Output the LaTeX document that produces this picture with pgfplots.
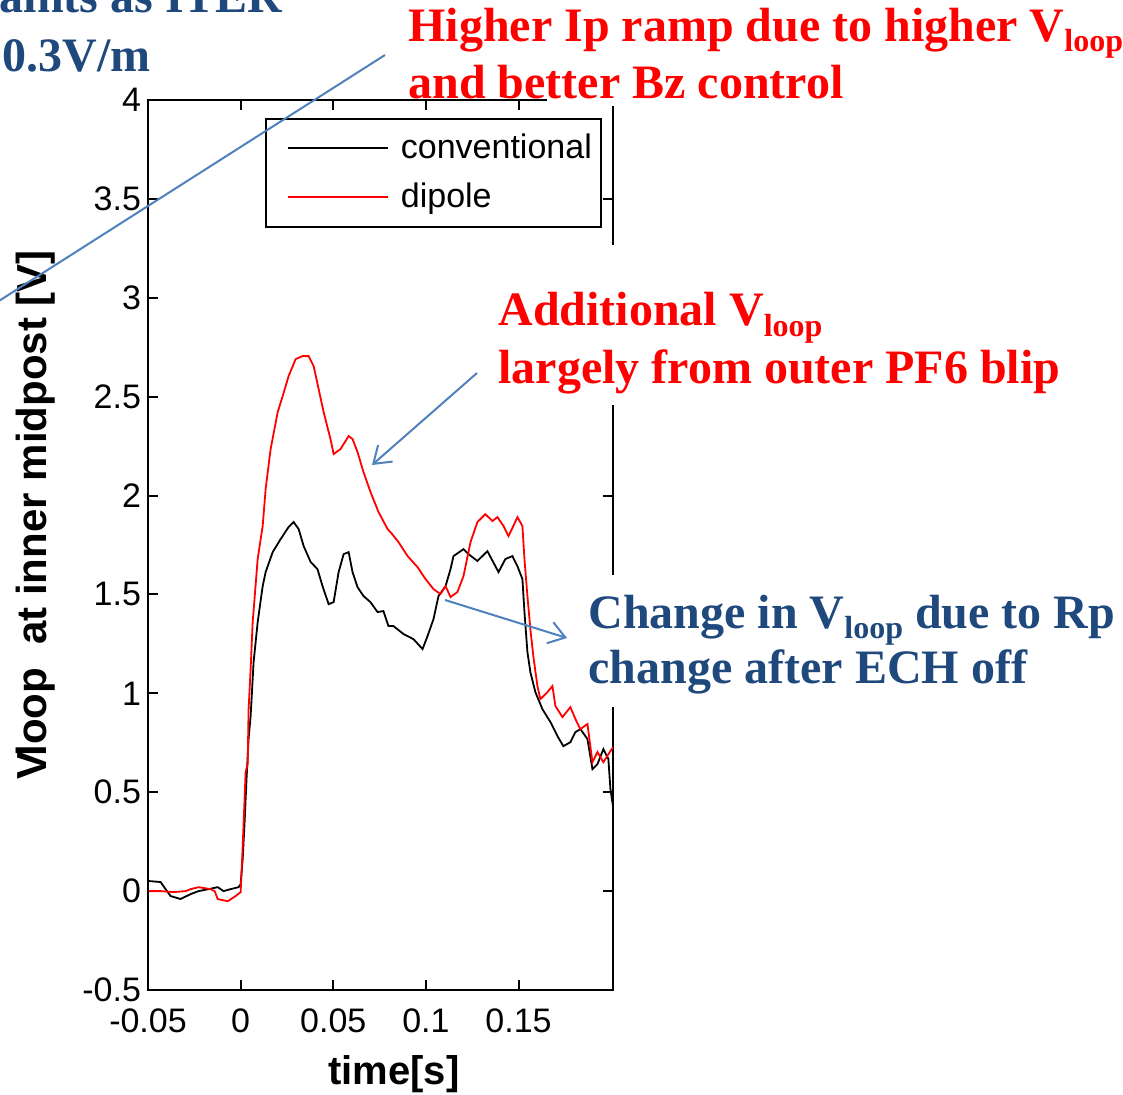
\documentclass[border=0pt]{standalone}
\usepackage{fontspec}
\setmainfont{Liberation Sans}
\newfontfamily\tnr{Liberation Serif}
\usepackage{pgfplots}
\pgfplotsset{compat=1.18}
\usetikzlibrary{arrows.meta}
\definecolor{annred}{RGB}{255,0,0}
\definecolor{annblue}{RGB}{31,73,125}
\definecolor{arrblue}{RGB}{79,129,189}

\newcommand{\sub}[1]{\raisebox{-5pt}{\fontsize{16}{16}\selectfont #1}}

\begin{document}
\begin{tikzpicture}
\path[use as bounding box] (0,0) rectangle (561.5pt,547pt);
\clip (0,0) rectangle (561.5pt,547pt);
\begin{axis}[
  at={(74pt,52pt)}, anchor=south west,
  scale only axis, width=232.5pt, height=445pt,
  xmin=-0.05, xmax=0.201, ymin=-0.5, ymax=4,
  xtick={-0.05,0,0.05,0.1,0.15},
  xticklabels={-0.05,0,0.05,0.1,0.15},
  ytick={-0.5,0,0.5,1,1.5,2,2.5,3,3.5,4},
  yticklabels={-0.5,0,0.5,1,1.5,2,2.5,3,3.5,4},
  scaled x ticks=false, scaled y ticks=false,
  tick label style={font=\fontsize{17}{20}\selectfont},
  xticklabel style={yshift=-6pt},
  axis line style={line width=1pt},
  tick style={line width=1pt, black},
  major tick length=5pt,
  legend style={at={(0.976,0.98)}, anchor=north east, draw=black,
    line width=1pt, inner xsep=2.5pt, inner ysep=7.75pt, row sep=10.5pt,
    font=\fontsize{17}{20}\selectfont,
    nodes={inner sep=2pt, text height=1.0em, text depth=0em}},
  legend cell align=left,
  legend image code/.code={
    \path[draw=none, fill=none] (-3pt,0pt) -- (60pt,0pt);
    \draw[#1] (5.5pt,0pt) -- (55.5pt,0pt);},
]
\addplot[black, line width=0.9pt] coordinates {
(-0.0496,0.051) (-0.0432,0.046) (-0.0405,0.010) (-0.0378,-0.025) (-0.0324,-0.040)
(-0.0270,-0.015) (-0.0227,0.000) (-0.0173,0.010) (-0.0124,0.020) (-0.0092,0.000)
(-0.0054,0.010) (-0.0011,0.020) (0.0000,0.035) (0.0011,0.16) (0.0022,0.36)
(0.0032,0.57) (0.0043,0.77) (0.0054,0.885) (0.0070,1.158) (0.0092,1.360)
(0.0119,1.542) (0.0135,1.613) (0.0173,1.714) (0.0216,1.780) (0.0259,1.841)
(0.0286,1.866) (0.0313,1.831) (0.0340,1.745) (0.0378,1.664) (0.0415,1.628)
(0.0442,1.542) (0.0475,1.451) (0.0502,1.461) (0.0529,1.613) (0.0556,1.704)
(0.0583,1.714) (0.0604,1.613) (0.0631,1.537) (0.0663,1.492) (0.0701,1.461)
(0.0739,1.411) (0.0771,1.416) (0.0798,1.340) (0.0825,1.340) (0.0879,1.300)
(0.0933,1.274) (0.0982,1.224) (0.1009,1.290) (0.1041,1.375) (0.1068,1.492)
(0.1106,1.542) (0.1133,1.628) (0.1149,1.694) (0.1203,1.729) (0.1230,1.704)
(0.1278,1.669) (0.1332,1.719) (0.1375,1.643) (0.1392,1.613) (0.1429,1.679)
(0.1467,1.694) (0.1494,1.643) (0.1521,1.578) (0.1532,1.411) (0.1548,1.209)
(0.1564,1.107) (0.1591,1.006) (0.1629,0.920) (0.1672,0.855) (0.1710,0.784)
(0.1742,0.733) (0.1780,0.753) (0.1807,0.804) (0.1834,0.819) (0.1872,0.769)
(0.1899,0.617) (0.1926,0.642) (0.1958,0.718) (0.1985,0.668) (0.1996,0.516)
(0.2012,0.415)
};
\addlegendentry{conventional}
\addplot[red, line width=0.9pt] coordinates {
(-0.0496,0.000) (-0.0432,0.000) (-0.0361,-0.005) (-0.0297,0.000) (-0.0270,0.010)
(-0.0227,0.020) (-0.0162,0.010) (-0.0140,0.000) (-0.0124,-0.040) (-0.0070,-0.051)
(-0.0027,-0.025) (0.0000,-0.005) (0.0011,0.223) (0.0027,0.602) (0.0038,0.642)
(0.0043,0.920) (0.0054,1.123) (0.0065,1.360) (0.0092,1.679) (0.0119,1.846)
(0.0135,2.033) (0.0162,2.235) (0.0200,2.422) (0.0227,2.503) (0.0259,2.604)
(0.0297,2.690) (0.0334,2.705) (0.0367,2.705) (0.0394,2.655) (0.0421,2.539)
(0.0448,2.422) (0.0485,2.286) (0.0502,2.210) (0.0539,2.235) (0.0583,2.301)
(0.0604,2.286) (0.0631,2.220) (0.0663,2.119) (0.0701,2.018) (0.0744,1.917)
(0.0793,1.831) (0.0809,1.815) (0.0852,1.765) (0.0901,1.694) (0.0955,1.638)
(0.0998,1.578) (0.1041,1.527) (0.1079,1.502) (0.1106,1.542) (0.1133,1.487)
(0.1170,1.512) (0.1203,1.593) (0.1241,1.765) (0.1278,1.866) (0.1321,1.906)
(0.1359,1.871) (0.1386,1.891) (0.1419,1.846) (0.1446,1.795) (0.1472,1.846)
(0.1494,1.891) (0.1521,1.846) (0.1532,1.679) (0.1548,1.492) (0.1564,1.325)
(0.1580,1.188) (0.1602,1.037) (0.1618,0.971) (0.1656,1.006) (0.1683,1.037)
(0.1699,0.936) (0.1737,0.880) (0.1780,0.930) (0.1807,0.870) (0.1834,0.819)
(0.1872,0.845) (0.1899,0.652) (0.1926,0.703) (0.1958,0.652) (0.1996,0.708)
(0.2012,0.728)
};
\addlegendentry{dipole}
\end{axis}
\begin{scope}[x=0.5pt,y=0.5pt]
% white text boxes that hide parts of the frame
\fill[white] (547,988) rectangle (1123,1094);
\fill[white] (490,689) rectangle (1123,849);
\fill[white] (580,387) rectangle (1123,519);
% axis titles
\node[anchor=base, font=\fontsize{20}{24}\selectfont\bfseries] at (394,10) {time[s]};
\node[rotate=90, anchor=base, font=\fontsize{21}{24}\selectfont\bfseries] at (47,579)
  {V\kern-0.12em loop\ \ at inner midpost [V]};
% arrows
\draw[arrblue, line width=1pt] (385,1039) -- (-20,781);
\draw[arrblue, line width=1pt, -{Straight Barb[length=8pt,width=11pt]}] (477,721) -- (372,629);
\draw[arrblue, line width=1pt, -{Straight Barb[length=8pt,width=11pt]}] (445,494) -- (567,456);
% annotations
\begin{scope}[every node/.style={inner sep=0pt, font=\tnr\bfseries\fontsize{24}{28}\selectfont}]
\node[anchor=base west, text=annred] at (408,1052) {Higher Ip ramp due to higher V\sub{loop}};
\node[anchor=base west, text=annred] at (408,995) {and better Bz control};
\node[anchor=base west, text=annred] at (498,768) {Additional V\sub{loop}};
\node[anchor=base west, text=annred] at (498,711) {largely from outer PF6 blip};
\node[anchor=base west, text=annblue] at (588,466) {Change in V\sub{loop} due to Rp};
\node[anchor=base west, text=annblue] at (588,411) {change after ECH off};
\node[anchor=base east, text=annblue] at (283,1081) {Same constraints as ITER};
\node[anchor=base west, text=annblue] at (2,1022) {0.3V/m};
\end{scope}
\end{scope}
\end{tikzpicture}
\end{document}
